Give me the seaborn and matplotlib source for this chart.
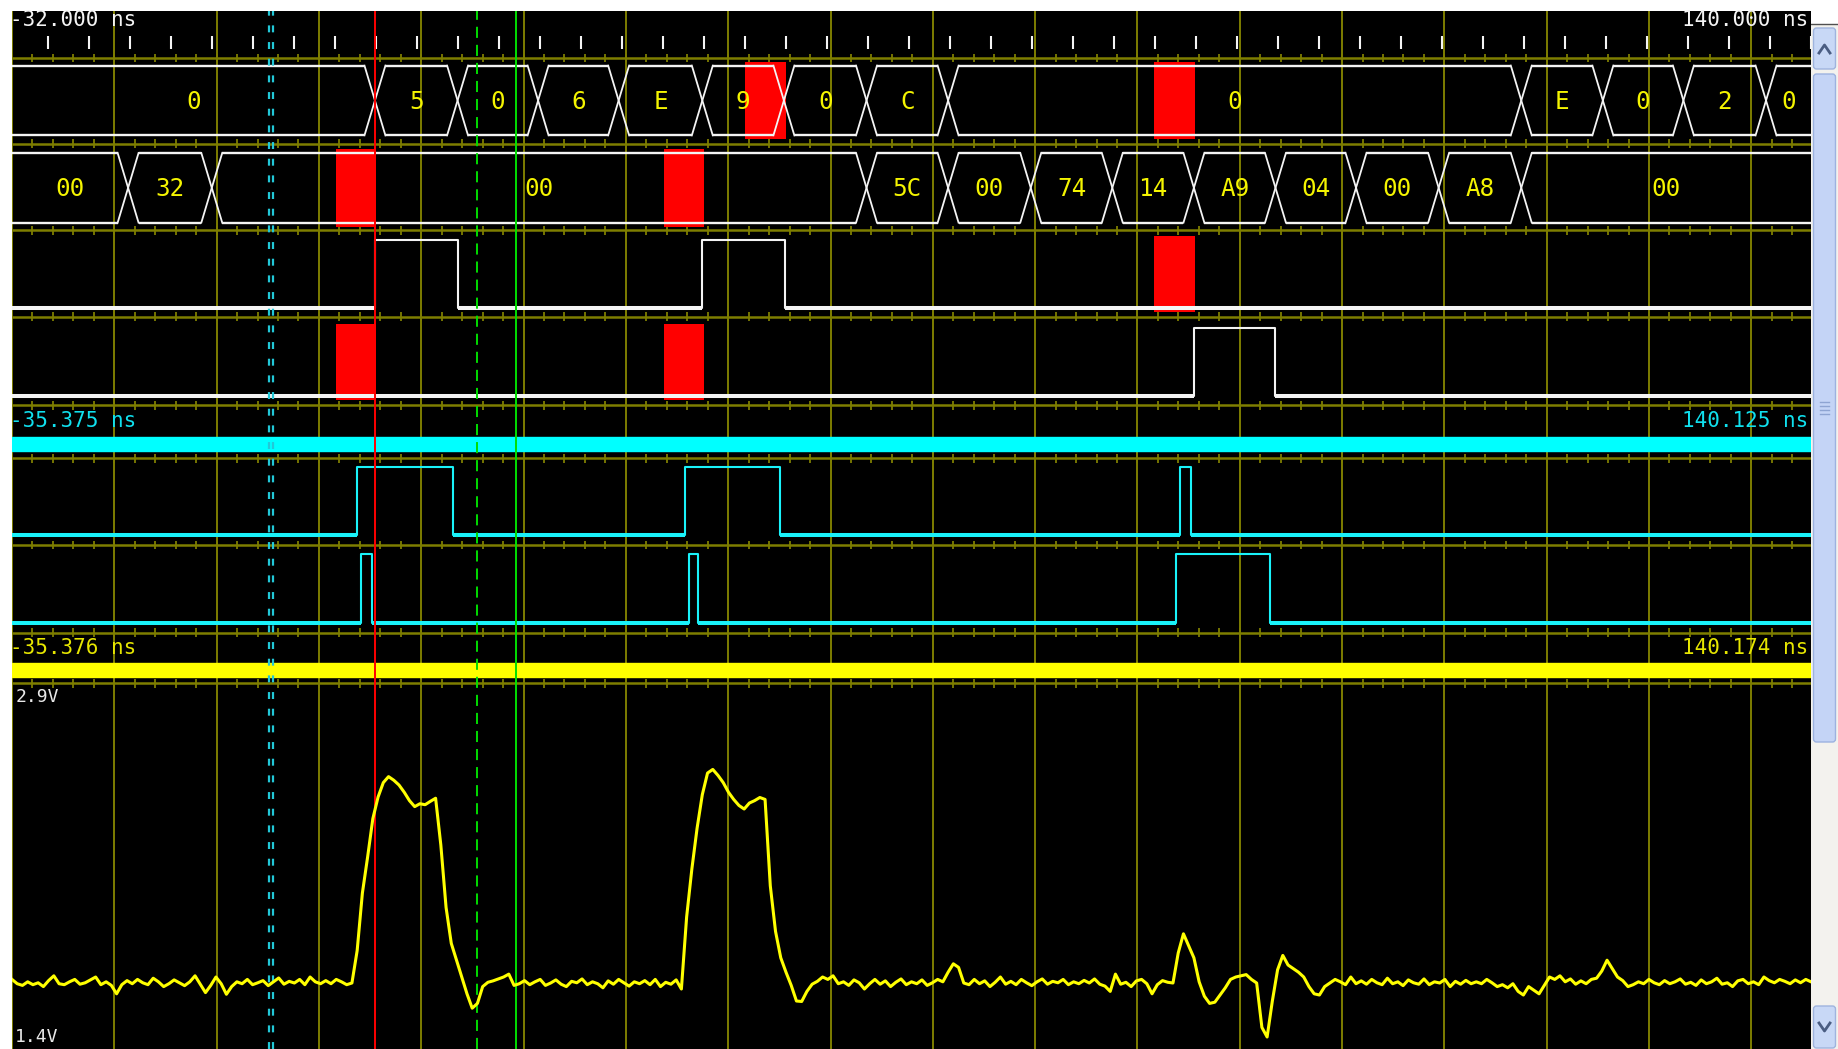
import numpy as np
import pandas as pd
import matplotlib
matplotlib.use("Agg")
import matplotlib.pyplot as plt
from matplotlib.patches import Rectangle, FancyBboxPatch
import seaborn as sns

plt.rcParams['lines.scale_dashes'] = False
plt.rcParams['font.family'] = ['DejaVu Sans Mono', 'DejaVu Sans']

# ---------------- values ----------------
t_left, t_right = -32.0, 140.0      # ns at the view edges
grid_div = 9.782                    # ns per grid division
top_tick0, top_tick_step = -28.6, 3.92

bus1_edges = [2.7, 10.6, 18.3, 26.0, 34.0, 41.8, 49.7, 57.5, 112.3, 120.1, 127.8, 135.7]
bus1_values = ["0", "5", "0", "6", "E", "9", "0", "C", "0", "E", "0", "2", "0"]

bus2_edges = [-20.9, -12.9, 49.7, 57.5, 65.4, 73.2, 81.0, 88.8, 96.5, 104.4, 112.3]
bus2_values = ["00", "32", "00", "5C", "00", "74", "14", "A9", "04", "00", "A8", "00"]

sig3_edges = [2.7, 10.6, 34.0, 41.9]
sig4_edges = [81.0, 88.8]
sig5_edges = [1.0, 10.2, 32.3, 41.4, 79.7, 80.7]
sig6_edges = [1.4, 2.4, 32.7, 33.6, 79.3, 88.3]

# red trigger marks
mark_row = [1, 1, 2, 2, 3, 4, 4]
mark_t0 = [38.1, 77.2, -1.0, 30.3, 77.2, -1.0, 30.3]
mark_t1 = [42.0, 81.1, 2.8, 34.2, 81.1, 2.8, 34.2]

cursor_red = 2.74
cursor_green = 16.2
cursor_green_dash = 12.5
cursor_cyan = [-7.43, -7.05]

# analog channel, one sample every 0.5 ns, in mV
ana_dt = 0.5
ana_mv = [
    1690, 1672, 1665, 1680, 1668, 1676, 1660, 1685, 1705, 1672, 1668, 1680, 1690, 1670, 1676, 1688, 1700, 1668, 1680, 1665,
    1630, 1668, 1685, 1672, 1690, 1676, 1668, 1695, 1680, 1660, 1672, 1688, 1676, 1664, 1680, 1705, 1670, 1635, 1665, 1700,
    1672, 1628, 1660, 1680, 1672, 1690, 1668, 1676, 1685, 1664, 1680, 1696, 1670, 1682, 1675, 1690, 1668, 1700, 1680, 1672,
    1685, 1672, 1690, 1680, 1668, 1675, 1810, 2050, 2200, 2360, 2450, 2510, 2535, 2520, 2500, 2470, 2435, 2410, 2422, 2418,
    2432, 2445, 2250, 1990, 1840, 1770, 1700, 1630, 1570, 1590, 1660, 1678, 1684, 1692, 1700, 1712, 1665, 1672, 1685, 1668,
    1680, 1690, 1665, 1675, 1688, 1670, 1660, 1682, 1676, 1692, 1668, 1680, 1672, 1655, 1684, 1670, 1690, 1676, 1662, 1680,
    1672, 1685, 1668, 1690, 1660, 1678, 1670, 1688, 1650, 1950, 2150, 2320, 2460, 2550, 2565, 2540, 2510, 2470, 2440, 2415,
    2400, 2425, 2435, 2448, 2440, 2080, 1890, 1780, 1720, 1665, 1600, 1598, 1640, 1670, 1682, 1700, 1690, 1705, 1672, 1680,
    1665, 1688, 1676, 1650, 1672, 1690, 1670, 1684, 1660, 1678, 1692, 1668, 1680, 1672, 1688, 1665, 1676, 1690, 1680, 1720,
    1755, 1740, 1675, 1668, 1690, 1672, 1684, 1660, 1678, 1700, 1670, 1682, 1668, 1690, 1676, 1664, 1680, 1692, 1670, 1682,
    1676, 1690, 1668, 1680, 1672, 1686, 1675, 1692, 1670, 1662, 1640, 1712, 1670, 1678, 1660, 1684, 1690, 1672, 1630, 1668,
    1685, 1678, 1675, 1800, 1880, 1830, 1780, 1680, 1620, 1590, 1595, 1625, 1655, 1690, 1700, 1705, 1710, 1690, 1675, 1490,
    1450, 1600, 1730, 1790, 1750, 1735, 1720, 1700, 1660, 1630, 1625, 1660, 1675, 1690, 1680, 1668, 1700, 1672, 1684, 1670,
    1690, 1676, 1668, 1695, 1672, 1680, 1664, 1688, 1676, 1670, 1692, 1668, 1680, 1675, 1690, 1660, 1682, 1670, 1686, 1672,
    1680, 1672, 1690, 1676, 1660, 1668, 1655, 1672, 1640, 1625, 1660, 1645, 1630, 1665, 1700, 1690, 1705, 1680, 1692, 1670,
    1684, 1672, 1690, 1695, 1725, 1770, 1735, 1700, 1685, 1660, 1668, 1680, 1672, 1690, 1676, 1668, 1685, 1672, 1680, 1692,
    1670, 1678, 1665, 1688, 1672, 1680, 1695, 1670, 1676, 1660, 1684, 1690, 1672, 1680, 1668, 1700, 1685, 1676, 1690, 1682,
    1672, 1688, 1676, 1690, 1680,
]

# ---------------- screen layout (reference units, 1568x895 scale) ----------------
Y_TOP, Y_BOT = 9.4, 895.0
rows = {1: (56.0, 115.5), 2: (130.5, 190.0), 3: (204.8, 263.0), 4: (280.0, 338.0),
        5: (398.2, 456.5), 6: (473.0, 531.3)}
seps = [49.5, 122.6, 196.4, 270.4, 345.6, 391.0, 465.0, 539.8, 583.0]
ANA_TOP = 583.0

OLIVE = '#7e7e00'
CYAN = '#19f2fa'
YELLOW = '#f4f400'
WHITE = '#f4f4f4'

fig = plt.figure(figsize=(18.38, 10.49), dpi=100, facecolor='white')
ax = fig.add_axes([12 / 1838, 0, 1799 / 1838, 1038 / 1049])
ax.set_facecolor('black')
for s in ax.spines.values():
    s.set_visible(False)

# grid
grid_t = np.arange(t_left, t_right + 0.01, grid_div)
ax.vlines(grid_t, Y_TOP, Y_BOT, color=OLIVE, lw=1.4, zorder=1)
ax.hlines(seps, t_left, t_right, color=OLIVE, lw=1.8, zorder=1)
minor_t = np.arange(t_left, t_right + 0.01, grid_div / 5)
for y in seps:
    ax.vlines(minor_t, y - 3.8, y + 3.8, color=OLIVE, lw=1.3, zorder=1)

# top time ticks
tick_t = np.arange(top_tick0, t_right, top_tick_step)
ax.vlines(tick_t, 30.5, 41.5, color=WHITE, lw=1.5, zorder=2)

# red marks
for r, a, b in zip(mark_row, mark_t0, mark_t1):
    top, bot = rows[r]
    ax.add_patch(Rectangle((a, top - 3.2), b - a, bot - top + 6.6,
                           facecolor='#ff0000', edgecolor='none', zorder=2))


def draw_bus(edges, values, top, bot, h=1.0):
    mid = (top + bot) / 2
    bounds = [t_left] + edges + [t_right]
    for a, b, v in zip(bounds[:-1], bounds[1:], values):
        xl = a if a <= t_left else a + h
        xr = b if b >= t_right else b - h
        ax.plot([xl, xr], [top, top], color=WHITE, lw=1.7, zorder=3, solid_capstyle='butt')
        ax.plot([xl, xr], [bot, bot], color=WHITE, lw=1.7, zorder=3, solid_capstyle='butt')
        ax.text((a + b) / 2, mid + 1, v, color=YELLOW, fontsize=17.5,
                ha='center', va='center', zorder=7)
    for e in edges:
        ax.plot([e - h, e + h], [top, bot], color=WHITE, lw=1.3, zorder=3)
        ax.plot([e - h, e + h], [bot, top], color=WHITE, lw=1.3, zorder=3)


def draw_digital(edges, top, bot, color):
    xs = [t_left] + edges + [t_right]
    ys = [bot if i % 2 == 0 else top for i in range(len(xs) - 1)] + [bot]
    df = pd.DataFrame({'t': xs, 'level': ys})
    sns.lineplot(data=df, x='t', y='level', ax=ax, color=color, lw=1.5,
                 drawstyle='steps-post', estimator=None, sort=False,
                 legend=False, zorder=3)
    starts, ends = xs[0::2], xs[1::2]
    ax.hlines([bot] * len(starts), starts, ends, color=color, lw=2.9, zorder=3)


draw_bus(bus1_edges, bus1_values, *rows[1])
draw_bus(bus2_edges, bus2_values, *rows[2])
draw_digital(sig3_edges, *rows[3], WHITE)
draw_digital(sig4_edges, *rows[4], WHITE)
draw_digital(sig5_edges, *rows[5], CYAN)
draw_digital(sig6_edges, *rows[6], CYAN)

# group bars
ax.axhspan(372.6, 384.6, color='#00ffff', zorder=2)
ax.axhspan(566.0, 578.0, color='#ffff00', zorder=2)

# cursors
ax.axvline(cursor_red, color='#ff0000', lw=1.4, zorder=6)
ax.axvline(cursor_green, color='#00e000', lw=1.4, zorder=6)
ax.axvline(cursor_green_dash, color='#00dd00', lw=1.4, ls=(0, (8, 5)), zorder=6)
for c in cursor_cyan:
    ax.axvline(c, color='#22c8d8', lw=1.6, ls=(0, (5, 7)), zorder=6)

# time labels
lab = dict(fontsize=15, va='center', zorder=8)
ax.text(t_left - 0.15, 17, "-32.000 ns", color=WHITE, ha='left', **lab)
ax.text(t_right - 0.3, 17, "140.000 ns", color=WHITE, ha='right', **lab)
ax.text(t_left - 0.15, 359, "-35.375 ns", color='#10e0ee', ha='left', **lab)
ax.text(t_right - 0.3, 359, "140.125 ns", color='#10e0ee', ha='right', **lab)
ax.text(t_left - 0.15, 553, "-35.376 ns", color='#e6e600', ha='left', **lab)
ax.text(t_right - 0.3, 553, "140.174 ns", color='#e6e600', ha='right', **lab)
ax.text(t_left + 0.3, 595, "2.9V", color='#e8e8e8', fontsize=13, ha='left', va='center', zorder=8)
ax.text(t_left + 0.3, 885, "1.4V", color='#e8e8e8', fontsize=13, ha='left', va='center', zorder=8)

ax.set_xlim(t_left, t_right)
ax.set_ylim(Y_BOT, Y_TOP)
ax.set_xlabel('')
ax.set_ylabel('')
ax.set_xticks([])
ax.set_yticks([])

# analog channel
ax_a = fig.add_axes([12 / 1838, 0, 1799 / 1838, (Y_BOT - ANA_TOP) * 1.1722 / 1049])
ax_a.patch.set_alpha(0)
ana = pd.DataFrame({'t': t_left + ana_dt * np.arange(len(ana_mv)),
                    'volt': np.array(ana_mv) / 1000.0})
sns.lineplot(data=ana, x='t', y='volt', ax=ax_a, color='#ffff00', lw=2.2,
             estimator=None, sort=False, legend=False)
ax_a.set_xlim(t_left, t_right)
ax_a.set_ylim(1.4, 2.924)
ax_a.set_axis_off()

# scrollbar
sb = fig.add_axes([1811 / 1838, 0, 27 / 1838, 1])
sb.set_xlim(0, 27)
sb.set_ylim(1049, 0)
sb.set_axis_off()
sb.add_patch(Rectangle((0, 25), 27, 1024, facecolor='#f3f2ee', edgecolor='none'))
sb.plot([0, 27], [24, 24], color='#505050', lw=1)
for y0, hgt in [(28, 41), (1006, 42)]:
    sb.add_patch(FancyBboxPatch((2.5, y0), 22, hgt, boxstyle='round,pad=0,rounding_size=3',
                                facecolor='#c8d8f6', edgecolor='#9fb4de', lw=1))
sb.add_patch(FancyBboxPatch((2.5, 74), 22, 668, boxstyle='round,pad=0,rounding_size=3',
                            facecolor='#c4d4f6', edgecolor='#9cb2e0', lw=1))
sb.plot([8, 13.5, 19], [53, 45, 53], color='#4a5d82', lw=2)
sb.plot([8, 13.5, 19], [1023, 1031, 1023], color='#4a5d82', lw=2)
for gy in [402, 406, 410, 414]:
    sb.plot([9, 18], [gy, gy], color='#8ea4d2', lw=1)

fig.savefig('out.png', dpi=100, facecolor='white')
